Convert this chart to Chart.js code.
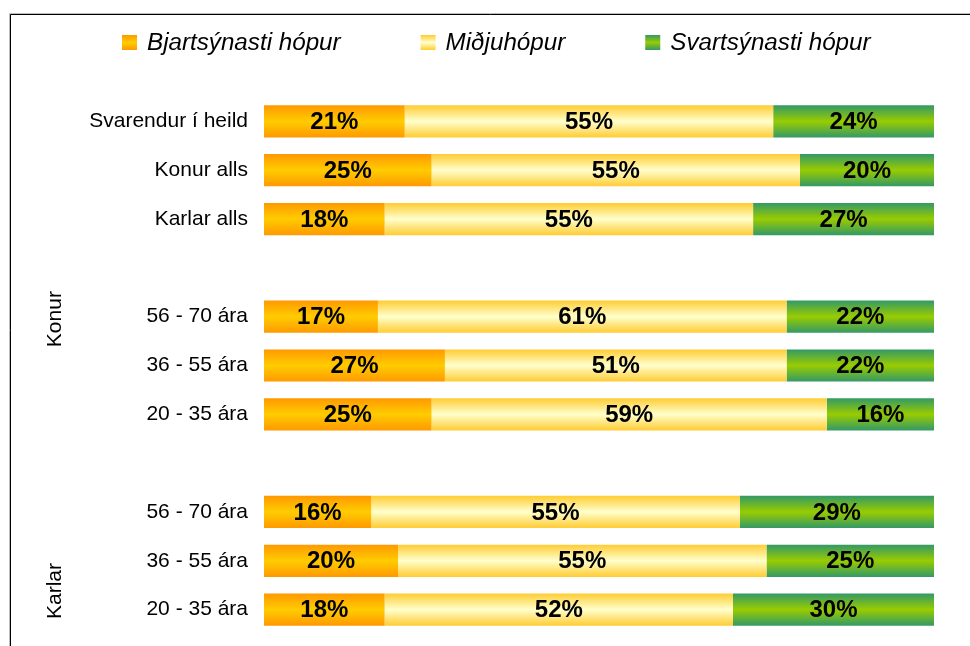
<!DOCTYPE html>
<html>
<head>
<meta charset="utf-8">
<script src="https://cdn.jsdelivr.net/npm/chart.js@4/dist/chart.umd.min.js"></script>
<style>
  html, body { margin: 0; padding: 0; background: #fff; }
  #wrap { width: 970px; height: 646px; position: relative; }
</style>
</head>
<body>
<div id="wrap"><canvas id="chart" width="970" height="646"></canvas></div>
<script>
// data
var categories = ["Svarendur í heild", "Konur alls", "Karlar alls", "",
                  "56 - 70 ára", "36 - 55 ára", "20 - 35 ára", "",
                  "56 - 70 ára", "36 - 55 ára", "20 - 35 ára"];
var seriesNames = ["Bjartsýnasti hópur", "Miðjuhópur", "Svartsýnasti hópur"];
var bjart = [21, 25, 18, null, 17, 27, 25, null, 16, 20, 18];
var midju = [55, 55, 55, null, 61, 51, 59, null, 55, 55, 52];
var svart = [24, 20, 27, null, 22, 22, 16, null, 29, 25, 30];
var groupNames = ["Konur", "Karlar"];

var FONT = "'Liberation Sans', Arial, sans-serif";
var barPct = 0.66;

// edge colour, centre colour
var fills = [
    ["#FF9900", "#FFCC00"],
    ["#FFCC33", "#FFFFCC"],
    ["#339966", "#99CC00"]
];

function makeGrad(c, top, bottom, stops) {
    var g = c.createLinearGradient(0, top, 0, bottom);
    g.addColorStop(0, stops[0]);
    g.addColorStop(0.5, stops[1]);
    g.addColorStop(1, stops[0]);
    return g;
}

// scriptable so the options stay per-bar; the gradient itself is set just before drawing
function barFill(stops) {
    return function() { return stops[1]; };
}

var extras = {
    id: "extras",
    beforeDraw: function(chart) {
        var c = chart.ctx;
        c.save();
        // frame
        c.strokeStyle = "#bbbbbb";
        c.lineWidth = 1;
        c.beginPath();
        c.moveTo(9.5, chart.height);
        c.lineTo(9.5, 13.5);
        c.lineTo(chart.width, 13.5);
        c.stroke();
        c.strokeStyle = "#000";
        c.beginPath();
        c.moveTo(10.5, chart.height);
        c.lineTo(10.5, 14.5);
        c.lineTo(chart.width, 14.5);
        c.stroke();
        c.restore();
    },
    beforeDatasetsDraw: function(chart) {
        var c = chart.ctx;
        chart.data.datasets.forEach(function(ds, i) {
            chart.getDatasetMeta(i).data.forEach(function(bar) {
                var p = bar.getProps(["y", "height"], true);
                if (!isFinite(p.y) || !isFinite(p.height)) return;
                bar.options.backgroundColor = makeGrad(c, p.y - p.height / 2, p.y + p.height / 2, fills[i]);
            });
        });
    },
    afterDatasetsDraw: function(chart) {
        var c = chart.ctx;
        c.save();
        c.font = "bold 24px " + FONT;
        c.fillStyle = "#000";
        c.textAlign = "center";
        c.textBaseline = "middle";
        chart.data.datasets.forEach(function(ds, i) {
            var meta = chart.getDatasetMeta(i);
            meta.data.forEach(function(bar, j) {
                var v = ds.data[j];
                if (v == null) return;
                var p = bar.getProps(["x", "base", "y"], true);
                c.fillText(v + "%", (p.x + p.base) / 2, p.y + 1);
            });
        });

        // legend
        c.font = "italic 24.2px " + FONT;
        c.textAlign = "left";
        var x = 122;
        seriesNames.forEach(function(name, i) {
            c.fillStyle = makeGrad(c, 35, 50, fills[i]);
            c.fillRect(x, 35, 15, 15);
            c.fillStyle = "#000";
            c.fillText(name, x + 25, 43);
            x += 25 + c.measureText(name).width + 80;
        });

        // group labels
        var y = chart.scales.y;
        var gy = [y.getPixelForValue(4.05), y.getPixelForValue(9.62)];
        c.font = "21px " + FONT;
        c.textAlign = "center";
        groupNames.forEach(function(g, i) {
            c.save();
            c.translate(55, gy[i]);
            c.rotate(-Math.PI / 2);
            c.fillText(g, 0, 0);
            c.restore();
        });
        c.restore();
    }
};

new Chart(document.getElementById("chart"), {
    type: "bar",
    data: {
        labels: categories,
        datasets: [
            { label: seriesNames[0], data: bjart, backgroundColor: barFill(fills[0]) },
            { label: seriesNames[1], data: midju, backgroundColor: barFill(fills[1]) },
            { label: seriesNames[2], data: svart, backgroundColor: barFill(fills[2]) }
        ]
    },
    options: {
        indexAxis: "y",
        responsive: false,
        animation: false,
        layout: { padding: { top: 97, bottom: 12, left: 0, right: 36 } },
        datasets: { bar: { barPercentage: barPct, categoryPercentage: 1, borderWidth: 0 } },
        plugins: {
            legend: { display: false },
            tooltip: { enabled: false }
        },
        scales: {
            x: { stacked: true, min: 0, max: 100, display: false },
            y: {
                stacked: true,
                grid: { display: false, drawTicks: false },
                border: { display: false },
                ticks: { padding: 16, color: "#000", font: { family: FONT, size: 21 } },
                afterFit: function(scale) {
                    scale.width = 264;
                    scale.paddingTop = 0;
                    scale.paddingBottom = 0;
                }
            }
        }
    },
    plugins: [extras]
});
</script>
</body>
</html>
